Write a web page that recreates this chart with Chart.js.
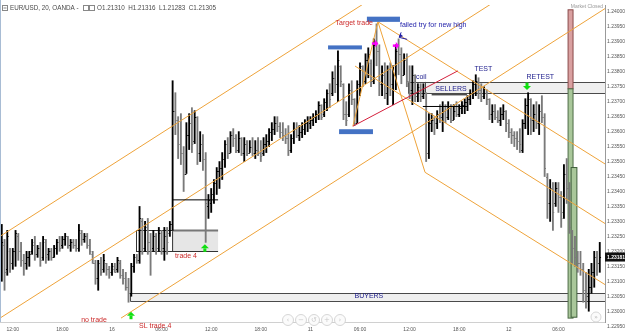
<!DOCTYPE html>
<html>
<head>
<meta charset="utf-8">
<script src="https://cdn.jsdelivr.net/npm/chart.js@4.4.1/dist/chart.umd.min.js"></script>
<style>
  html, body { margin: 0; padding: 0; background: #fff; }
  #wrap { width: 625px; height: 336px; }
</style>
</head>
<body>
<div id="wrap"><canvas id="chart" width="625" height="336"></canvas></div>
<script>
// EUR/USD 20 min bars, bar index 0 = day 16 00:00
const firstBar = -40;
const timeTicks = [-36, -18, 0, 18, 36, 54, 72, 90, 108, 126, 144, 162];
const timeLabels = ['12:00', '18:00', '16', '06:00', '12:00', '18:00', '11', '06:00', '12:00', '18:00', '12', '06:00'];
const priceTicks = [1.2295, 1.2300, 1.2305, 1.2310, 1.2315, 1.2320, 1.2325, 1.2330, 1.2335, 1.2340, 1.2345,
  1.2350, 1.2355, 1.2360, 1.2365, 1.2370, 1.2375, 1.2380, 1.2385, 1.2390, 1.2395, 1.2400];
const lastPrice = 1.23181;

const highs = [
  1.2329,1.2324,1.2327,1.2321,1.2321,1.2327,1.2326,1.2323,1.2319,1.2320,
  1.2320,1.2324,1.2325,1.2322,1.2323,1.2325,1.2324,1.2321,1.2321,1.2322,
  1.2324,1.2325,1.2325,1.2326,1.2325,1.2324,1.2324,1.2324,1.2329,1.2327,
  1.2326,1.2326,1.2324,1.2320,1.2317,1.2317,1.2318,1.2319,1.2316,1.2315,
  1.2316,1.2316,1.2318,1.2317,1.2314,1.2313,1.2311,1.2316,1.2319,1.2319,
  1.2335,1.2331,1.2330,1.2331,1.2326,1.2327,1.2326,1.2328,1.2327,1.2328,
  1.2328,1.2330,1.2377,1.2373,1.2365,1.2366,1.2355,1.2363,1.2366,1.2368,
  1.2367,1.2365,1.2360,1.2359,1.2353,1.2339,1.2341,1.2344,1.2348,1.2350,
  1.2353,1.2357,1.2358,1.2360,1.2361,1.2359,1.2360,1.2358,1.2358,1.2357,
  1.2357,1.2358,1.2357,1.2358,1.2357,1.2358,1.2359,1.2361,1.2363,1.2365,
  1.2365,1.2363,1.2363,1.2361,1.2362,1.2359,1.2363,1.2363,1.2362,1.2363,
  1.2364,1.2365,1.2365,1.2366,1.2367,1.2370,1.2369,1.2371,1.2374,1.2376,
  1.2380,1.2382,1.2387,1.2382,1.2376,1.2370,1.2376,1.2377,1.2371,1.2377,
  1.2383,1.2382,1.2386,1.2388,1.2384,1.2391,1.2396,1.2389,1.2382,1.2383,
  1.2382,1.2383,1.2382,1.2389,1.2391,1.2388,1.2386,1.2386,1.2382,1.2382,
  1.2379,1.2376,1.2376,1.2376,1.2373,1.2366,1.2366,1.2365,1.2367,1.2369,
  1.2370,1.2369,1.2370,1.2369,1.2369,1.2370,1.2369,1.2370,1.2371,1.2372,
  1.2374,1.2377,1.2379,1.2378,1.2376,1.2375,1.2374,1.2371,1.2369,1.2369,
  1.2367,1.2368,1.2369,1.2367,1.2364,1.2361,1.2360,1.2360,1.2361,1.2364,
  1.2371,1.2373,1.2371,1.2369,1.2370,1.2369,1.2372,1.2366,1.2346,1.2344,
  1.2343,1.2343,1.2343,1.2340,1.2349,1.2351,1.2343,1.2327,1.2325,1.2320,
  1.2320,1.2316,1.2313,1.2314,1.2316,1.2320,1.2320,1.2323
];
const lows = [
  1.2310,1.2307,1.2312,1.2313,1.2314,1.2315,1.2317,1.2315,1.2312,1.2314,
  1.2315,1.2319,1.2317,1.2318,1.2315,1.2317,1.2316,1.2317,1.2317,1.2318,
  1.2319,1.2320,1.2321,1.2322,1.2321,1.2320,1.2321,1.2320,1.2320,1.2322,
  1.2323,1.2321,1.2319,1.2316,1.2309,1.2307,1.2312,1.2313,1.2312,1.2311,
  1.2312,1.2313,1.2313,1.2311,1.2309,1.2307,1.2303,1.2305,1.2313,1.2316,
  1.2316,1.2319,1.2320,1.2319,1.2312,1.2320,1.2319,1.2320,1.2319,1.2317,
  1.2319,1.2325,1.2327,1.2359,1.2351,1.2349,1.2340,1.2346,1.2354,1.2353,
  1.2356,1.2349,1.2350,1.2347,1.2323,1.2331,1.2333,1.2336,1.2339,1.2341,
  1.2344,1.2348,1.2351,1.2353,1.2355,1.2353,1.2353,1.2352,1.2350,1.2352,
  1.2353,1.2352,1.2351,1.2352,1.2350,1.2352,1.2353,1.2355,1.2357,1.2359,
  1.2360,1.2358,1.2357,1.2356,1.2352,1.2353,1.2356,1.2358,1.2357,1.2358,
  1.2359,1.2360,1.2361,1.2362,1.2363,1.2364,1.2364,1.2365,1.2367,1.2368,
  1.2372,1.2373,1.2370,1.2375,1.2364,1.2362,1.2365,1.2369,1.2362,1.2363,
  1.2372,1.2375,1.2376,1.2378,1.2375,1.2376,1.2382,1.2372,1.2372,1.2371,
  1.2369,1.2372,1.2369,1.2374,1.2379,1.2376,1.2379,1.2375,1.2371,1.2369,
  1.2370,1.2370,1.2370,1.2371,1.2350,1.2351,1.2360,1.2359,1.2361,1.2363,
  1.2360,1.2363,1.2364,1.2363,1.2364,1.2365,1.2365,1.2366,1.2366,1.2367,
  1.2369,1.2371,1.2372,1.2371,1.2370,1.2371,1.2369,1.2364,1.2363,1.2364,
  1.2363,1.2362,1.2364,1.2360,1.2358,1.2356,1.2355,1.2354,1.2353,1.2353,
  1.2361,1.2359,1.2359,1.2360,1.2361,1.2359,1.2363,1.2345,1.2331,1.2330,
  1.2327,1.2335,1.2333,1.2328,1.2331,1.2336,1.2326,1.2316,1.2315,1.2313,
  1.2312,1.2303,1.2301,1.2300,1.2306,1.2308,1.2312,1.2313
];
const opens = [
  1.2315,1.2322,1.2314,1.2320,1.2316,1.2320,1.2325,1.2320,1.2317,1.2316,
  1.2318,1.2320,1.2323,1.2319,1.2321,1.2318,1.2323,1.2319,1.2320,1.2318,
  1.2321,1.2323,1.2322,1.2324,1.2325,1.2322,1.2323,1.2322,1.2321,1.2326,
  1.2324,1.2325,1.2322,1.2319,1.2316,1.2311,1.2316,1.2314,1.2316,1.2314,
  1.2313,1.2314,1.2314,1.2316,1.2312,1.2311,1.2308,1.2306,1.2315,1.2318,
  1.2317,1.2330,1.2321,1.2328,1.2323,1.2321,1.2325,1.2321,1.2326,1.2321,
  1.2325,1.2326,1.2329,1.2367,1.2364,1.2356,1.2353,1.2346,1.2359,1.2363,
  1.2357,1.2365,1.2353,1.2356,1.2351,1.2335,1.2336,1.2339,1.2343,1.2347,
  1.2348,1.2351,1.2356,1.2353,1.2359,1.2358,1.2354,1.2358,1.2353,1.2356,
  1.2353,1.2355,1.2353,1.2354,1.2353,1.2353,1.2356,1.2357,1.2360,1.2361,
  1.2363,1.2362,1.2360,1.2359,1.2358,1.2354,1.2358,1.2361,1.2359,1.2360,
  1.2361,1.2363,1.2363,1.2364,1.2365,1.2366,1.2369,1.2366,1.2370,1.2373,
  1.2373,1.2378,1.2376,1.2382,1.2376,1.2366,1.2366,1.2374,1.2371,1.2363,
  1.2376,1.2382,1.2377,1.2384,1.2383,1.2377,1.2389,1.2387,1.2376,1.2379,
  1.2373,1.2381,1.2376,1.2379,1.2387,1.2386,1.2379,1.2384,1.2377,1.2374,
  1.2379,1.2372,1.2375,1.2372,1.2373,1.2353,1.2363,1.2364,1.2363,1.2366,
  1.2365,1.2367,1.2365,1.2368,1.2364,1.2367,1.2366,1.2368,1.2369,1.2370,
  1.2371,1.2373,1.2376,1.2377,1.2374,1.2372,1.2373,1.2371,1.2366,1.2367,
  1.2365,1.2364,1.2366,1.2367,1.2363,1.2360,1.2359,1.2358,1.2357,1.2354,
  1.2363,1.2369,1.2371,1.2364,1.2366,1.2363,1.2367,1.2365,1.2345,1.2336,
  1.2341,1.2336,1.2341,1.2338,1.2333,1.2346,1.2341,1.2327,1.2321,1.2318,
  1.2316,1.2314,1.2307,1.2305,1.2308,1.2313,1.2318,1.2316
];
const closes = [
  1.2323,1.2313,1.2325,1.2316,1.2320,1.2326,1.2320,1.2317,1.2316,1.2318,
  1.2319,1.2322,1.2319,1.2321,1.2317,1.2324,1.2318,1.2320,1.2318,1.2321,
  1.2323,1.2321,1.2324,1.2325,1.2322,1.2323,1.2322,1.2321,1.2327,1.2324,
  1.2325,1.2322,1.2320,1.2316,1.2311,1.2316,1.2313,1.2317,1.2314,1.2313,
  1.2315,1.2313,1.2317,1.2312,1.2311,1.2308,1.2306,1.2315,1.2318,1.2317,
  1.2331,1.2321,1.2328,1.2323,1.2320,1.2325,1.2320,1.2326,1.2321,1.2325,
  1.2323,1.2329,1.2367,1.2364,1.2356,1.2353,1.2346,1.2359,1.2363,1.2356,
  1.2365,1.2353,1.2356,1.2351,1.2336,1.2337,1.2339,1.2343,1.2347,1.2348,
  1.2351,1.2356,1.2353,1.2359,1.2358,1.2354,1.2358,1.2353,1.2356,1.2353,
  1.2355,1.2353,1.2354,1.2353,1.2352,1.2356,1.2357,1.2360,1.2361,1.2363,
  1.2362,1.2360,1.2359,1.2358,1.2354,1.2358,1.2361,1.2359,1.2360,1.2361,
  1.2363,1.2364,1.2364,1.2365,1.2366,1.2369,1.2365,1.2370,1.2373,1.2371,
  1.2378,1.2376,1.2384,1.2377,1.2366,1.2364,1.2374,1.2371,1.2363,1.2376,
  1.2382,1.2377,1.2384,1.2386,1.2377,1.2389,1.2387,1.2376,1.2379,1.2373,
  1.2381,1.2376,1.2379,1.2387,1.2386,1.2379,1.2384,1.2377,1.2374,1.2379,
  1.2372,1.2375,1.2372,1.2373,1.2353,1.2363,1.2364,1.2363,1.2366,1.2365,
  1.2367,1.2365,1.2368,1.2364,1.2367,1.2366,1.2368,1.2369,1.2370,1.2371,
  1.2373,1.2376,1.2377,1.2374,1.2372,1.2373,1.2371,1.2366,1.2367,1.2365,
  1.2364,1.2366,1.2367,1.2363,1.2360,1.2359,1.2358,1.2357,1.2356,1.2363,
  1.2369,1.2371,1.2364,1.2366,1.2363,1.2367,1.2365,1.2348,1.2336,1.2341,
  1.2333,1.2341,1.2338,1.2331,1.2346,1.2341,1.2328,1.2321,1.2318,1.2316,
  1.2314,1.2307,1.2305,1.2308,1.2313,1.2318,1.2316,1.23181
];

// drawing tools, in bar index / price
const orangeLines = [
  [[-40.64, 1.23250], [178.9, 1.24543]],
  [[-40.64, 1.22977], [178.9, 1.24270]],
  [[3.27, 1.22977], [178.9, 1.24011]],
  [[96.5, 1.23967], [178.9, 1.23492]],
  [[88.2, 1.23819], [178.9, 1.23293]],
  [[113.6, 1.23464], [178.9, 1.23089]],
  [[87.4, 1.23618], [96.5, 1.23967]],
  [[96.5, 1.23967], [113.6, 1.23464]]
];
const redLine = [[87.4, 1.23618], [125.5, 1.23803]];
const blackLines = [
  [[21.8, 1.23372], [38.5, 1.23372]],
  [[112.8, 1.23684], [128.8, 1.23684]],
  [[116.0, 1.23723], [128.8, 1.23723]]
];
const zones = [
  { from: 6.5, to: 180, top: 1.23062, bottom: 1.23033 },
  { from: 107.4, to: 180, top: 1.23766, bottom: 1.23730 }
];
const blueBars = [
  [78.4, 90.7, 1.23888, 1.23878],
  [92.5, 104.5, 1.23984, 1.23970],
  [82.4, 94.7, 1.23608, 1.23595]
];
const notes = [
  ['Target trade', 94.7, 1.23964, '#cc2a2a', 'right'],
  ['failed try for new high', 104.5, 1.23957, '#1c1ca8', 'left'],
  ['coil', 110.3, 1.23783, '#1c1c8c', 'left'],
  ['SELLERS', 117.3, 1.23742, '#1c1c8c', 'left'],
  ['TEST', 131.5, 1.23809, '#1c1c8c', 'left'],
  ['RETEST', 150.4, 1.23782, '#1c1c8c', 'left'],
  ['BUYERS', 88.0, 1.23049, '#1c1c8c', 'left'],
  ['trade 4', 22.9, 1.23184, '#cc2a2a', 'left'],
  ['no trade', -11.2, 1.22970, '#cc2a2a', 'left'],
  ['SL trade 4', 9.8, 1.22951, '#cc2a2a', 'left']
];

const bars = opens.map((o, k) => ({ x: firstBar + k, y: [lows[k], highs[k]] }));
const barColors = opens.map((o, k) => closes[k] >= o ? '#000000' : '#7a7a7a');

const drawings = {
  id: 'drawings',
  beforeDatasetsDraw(chart) {
    const { ctx, chartArea: a, scales: { x, y } } = chart;
    const X = v => x.getPixelForValue(v), Y = v => y.getPixelForValue(v);
    ctx.save();
    ctx.beginPath(); ctx.rect(a.left, a.top, a.right - a.left, a.bottom - a.top); ctx.clip();
    zones.forEach(z => {
      const x0 = Math.round(X(z.from)) + 0.5, x1 = X(z.to);
      const y0 = Math.round(Y(z.top)) + 0.5, y1 = Math.round(Y(z.bottom)) + 0.5;
      ctx.fillStyle = '#efefef'; ctx.fillRect(x0, y0, x1 - x0, y1 - y0);
      ctx.strokeStyle = '#4a4a4a'; ctx.lineWidth = 1;
      ctx.beginPath(); ctx.moveTo(x1, y0); ctx.lineTo(x0, y0); ctx.lineTo(x0, y1); ctx.lineTo(x1, y1); ctx.stroke();
    });
    // coil box right edge
    ctx.beginPath(); ctx.moveTo(Math.round(X(113.6)) + 0.5, Y(1.23766)); ctx.lineTo(Math.round(X(113.6)) + 0.5, Y(1.23730)); ctx.stroke();
    // trade 4 box
    const tl = X(8.7), tm = X(21.8), tr = X(38.5), tt = Math.round(Y(1.2327)) + 0.5, tb = Math.round(Y(1.2320)) + 0.5;
    ctx.fillStyle = '#e6e6e6'; ctx.fillRect(tm, tt, tr - tm, tb - tt);
    ctx.strokeStyle = '#333'; ctx.strokeRect(Math.round(tl) + 0.5, tt, tm - tl, tb - tt);
    ctx.beginPath(); ctx.moveTo(tm, tb); ctx.lineTo(tr, tb); ctx.stroke();
    ctx.strokeStyle = '#777'; ctx.lineWidth = 2;
    ctx.beginPath(); ctx.moveTo(tm, tt); ctx.lineTo(tr, tt); ctx.stroke();
    ctx.lineWidth = 1;
    // long position tool
    const c0 = X(165.5), c1 = X(167.3);
    ctx.fillStyle = '#d9a0a0'; ctx.fillRect(c0, Y(1.24007), c1 - c0, Y(1.23743) - Y(1.24007));
    ctx.strokeStyle = '#8a4a4a'; ctx.strokeRect(c0, Y(1.24007), c1 - c0, Y(1.23743) - Y(1.24007));
    ctx.fillStyle = '#a9c79a'; ctx.fillRect(c0, Y(1.23743), c1 - c0, Y(1.22977) - Y(1.23743));
    ctx.strokeStyle = '#4d6b46'; ctx.strokeRect(c0, Y(1.23743), c1 - c0, Y(1.22977) - Y(1.23743));
    const g0 = X(166.6), g1 = X(168.7);
    ctx.fillStyle = '#a9c79a'; ctx.fillRect(g0, Y(1.23480), g1 - g0, Y(1.22980) - Y(1.23480));
    ctx.strokeStyle = '#3e5e3a'; ctx.strokeRect(g0, Y(1.23480), g1 - g0, Y(1.22980) - Y(1.23480));
    ctx.restore();
  },
  afterDatasetsDraw(chart) {
    const { ctx, chartArea: a, scales: { x, y } } = chart;
    const X = v => x.getPixelForValue(v), Y = v => y.getPixelForValue(v);
    ctx.save();
    ctx.beginPath(); ctx.rect(a.left, a.top, a.right - a.left, a.bottom - a.top); ctx.clip();
    // open / close ticks
    ctx.lineWidth = 1;
    opens.forEach((o, k) => {
      const px = X(firstBar + k);
      ctx.strokeStyle = barColors[k];
      ctx.beginPath();
      ctx.moveTo(px - 1.3, Math.round(Y(o)) + 0.5); ctx.lineTo(px, Math.round(Y(o)) + 0.5);
      ctx.moveTo(px, Math.round(Y(closes[k])) + 0.5); ctx.lineTo(px + 1.3, Math.round(Y(closes[k])) + 0.5);
      ctx.stroke();
    });
    const seg = (l, color) => {
      ctx.strokeStyle = color;
      ctx.beginPath(); ctx.moveTo(X(l[0][0]), Y(l[0][1])); ctx.lineTo(X(l[1][0]), Y(l[1][1])); ctx.stroke();
    };
    orangeLines.forEach(l => seg(l, '#eea33a'));
    seg(redLine, '#d4203c');
    blackLines.forEach(l => seg(l, '#000'));
    ctx.fillStyle = '#4472c4';
    blueBars.forEach(b => ctx.fillRect(X(b[0]), Y(b[2]), X(b[1]) - X(b[0]), Y(b[3]) - Y(b[2]) + 1));
    // magenta arrows
    ctx.fillStyle = '#ff00ff';
    [[95.4, 1.23895], [103.0, 1.23888]].forEach(([i, p]) => {
      const cx = X(i), cy = Y(p);
      ctx.fillRect(cx - 3, cy - 1, 3, 2.5);
      ctx.beginPath(); ctx.moveTo(cx, cy - 3.5); ctx.lineTo(cx + 3.5, cy + 0.2); ctx.lineTo(cx, cy + 4); ctx.fill();
    });
    // green arrows
    ctx.fillStyle = '#10e010';
    [[33.7, 1.23210, 1], [6.9, 1.22985, 1], [150.6, 1.23752, -1]].forEach(([i, p, d]) => {
      const cx = X(i), cy = Y(p);
      ctx.beginPath(); ctx.moveTo(cx, cy - 4 * d); ctx.lineTo(cx + 4, cy); ctx.lineTo(cx - 4, cy); ctx.fill();
      ctx.fillRect(cx - 1.5, d > 0 ? cy : cy - 3.5, 3, 3.5);
    });
    // blue pointer to failed high
    ctx.strokeStyle = '#1c1ca8';
    const bx = X(104.2), by = Y(1.23915);
    ctx.beginPath(); ctx.moveTo(bx, by); ctx.lineTo(bx + 8, by + 2); ctx.moveTo(bx, by); ctx.lineTo(bx + 2, by - 5); ctx.stroke();
    ctx.beginPath(); ctx.moveTo(bx, by); ctx.lineTo(bx + 4, by - 1); ctx.lineTo(bx + 1, by - 3.5); ctx.fillStyle = '#1c1ca8'; ctx.fill();
    ctx.restore();
    // texts
    ctx.save();
    ctx.font = '7px "Liberation Sans", Arial, sans-serif';
    ctx.textBaseline = 'middle';
    notes.forEach(([t, i, p, c, al]) => {
      ctx.fillStyle = c; ctx.textAlign = al; ctx.fillText(t, X(i), Y(p));
    });
    ctx.restore();
  },
  afterDraw(chart) {
    const { ctx, chartArea: a, scales: { y } } = chart;
    ctx.save();
    // left edge
    ctx.strokeStyle = '#a8bcd4'; ctx.lineWidth = 1;
    ctx.beginPath(); ctx.moveTo(0.5, 0); ctx.lineTo(0.5, a.bottom); ctx.stroke();
    // legend header
    ctx.strokeStyle = '#888';
    ctx.strokeRect(2.5, 5.5, 5, 5);
    ctx.beginPath(); ctx.moveTo(3.5, 8); ctx.lineTo(6.5, 8); ctx.stroke();
    ctx.strokeRect(83.5, 5.5, 5, 5); ctx.strokeRect(89.5, 5.5, 5, 5);
    ctx.fillStyle = '#4a4a4a';
    ctx.font = '6.3px "Liberation Sans", Arial, sans-serif';
    ctx.textBaseline = 'middle'; ctx.textAlign = 'left';
    ctx.fillText('EUR/USD, 20, OANDA -', 10, 8.5);
    ctx.fillText('O1.21310  H1.21316  L1.21283  C1.21305', 97, 8.5);
    ctx.fillStyle = '#999'; ctx.font = '5px "Liberation Sans", Arial, sans-serif'; ctx.textAlign = 'right';
    ctx.fillText('Market Closed', 603, 7);
    // last price tag
    const ly = y.getPixelForValue(lastPrice);
    ctx.fillStyle = '#111'; ctx.fillRect(a.right, ly - 4.5, 20, 9);
    ctx.fillStyle = '#fff'; ctx.font = 'bold 5px "Liberation Sans", Arial, sans-serif'; ctx.textAlign = 'left';
    ctx.fillText(lastPrice.toFixed(5), a.right + 2, ly + 0.5);
    // navigation buttons
    ctx.strokeStyle = '#d6d6d6';
    const glyphs = ['‹', '−', '↺', '+', '›'];
    [288, 301, 314, 327, 340].forEach((cx, k) => {
      ctx.beginPath(); ctx.arc(cx, 320, 5.5, 0, Math.PI * 2); ctx.fillStyle = '#fbfbfb'; ctx.fill(); ctx.stroke();
      ctx.fillStyle = '#c8c8c8'; ctx.font = '7px "DejaVu Sans"'; ctx.textAlign = 'center';
      ctx.fillText(glyphs[k], cx, 320.5);
    });
    ctx.beginPath(); ctx.arc(596, 317, 5, 0, Math.PI * 2); ctx.fillStyle = '#fbfbfb'; ctx.fill(); ctx.stroke();
    ctx.fillStyle = '#aaa'; ctx.font = '6px "DejaVu Sans"'; ctx.fillText('»', 596, 317.5);
    ctx.restore();
  }
};

new Chart(document.getElementById('chart'), {
  type: 'bar',
  data: {
    datasets: [{
      data: bars,
      backgroundColor: barColors,
      borderWidth: 0,
      barThickness: 1.2,
      grouped: false
    }]
  },
  options: {
    responsive: false,
    animation: false,
    devicePixelRatio: 1,
    layout: { padding: 0 },
    plugins: { legend: { display: false }, tooltip: { enabled: false } },
    scales: {
      x: {
        type: 'linear', min: -40.64, max: 178.9, offset: false,
        grid: { display: false, drawTicks: false },
        border: { display: true, color: '#d0d0d0' },
        afterBuildTicks: s => { s.ticks = timeTicks.map(v => ({ value: v })); },
        afterFit: s => { s.height = 14; },
        ticks: {
          autoSkip: false, maxRotation: 0, padding: 5, color: '#555',
          font: { size: 5, family: '"Liberation Sans", Arial, sans-serif' },
          callback: v => timeLabels[timeTicks.indexOf(v)] ?? ''
        }
      },
      y: {
        position: 'right', min: 1.22964, max: 1.24023,
        grid: { display: false, drawTicks: false },
        border: { display: true, color: '#9a9a9a' },
        afterBuildTicks: s => { s.ticks = priceTicks.map(v => ({ value: v })); },
        afterFit: s => { s.width = 20; },
        ticks: {
          padding: 2, color: '#555',
          font: { size: 5, family: '"Liberation Sans", Arial, sans-serif' },
          callback: v => v.toFixed(5)
        }
      }
    }
  },
  plugins: [drawings]
});
</script>
</body>
</html>
